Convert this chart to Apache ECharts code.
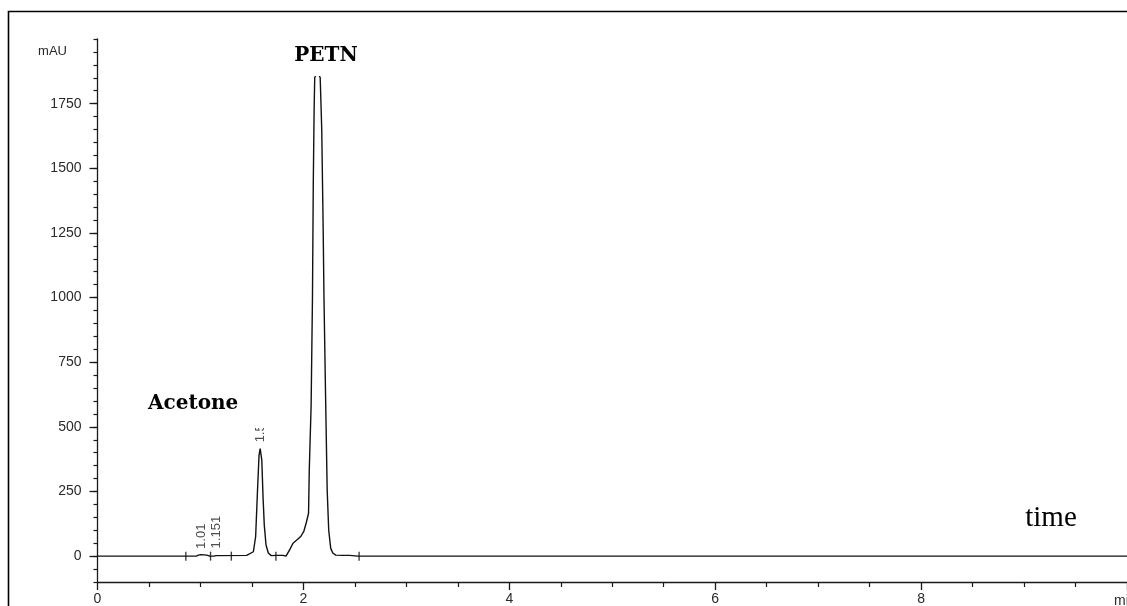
<!DOCTYPE html>
<html>
<head>
<meta charset="utf-8">
<script src="https://cdn.jsdelivr.net/npm/echarts@6/dist/echarts.min.js"></script>
<style>
  html, body { margin: 0; padding: 0; background: #ffffff; }
  #chart { width: 1127px; height: 606px; }
</style>
</head>
<body>
<div id="chart"></div>
<script>
// Detector trace: retention time (min) and absorbance (mAU)
const traceTime = [
  0, 0.96, 0.98, 1.00, 1.04, 1.07, 1.09, 1.13, 1.151, 1.17,
  1.449, 1.514, 1.536, 1.553, 1.569, 1.580, 1.596, 1.608, 1.620, 1.637, 1.659, 1.688, 1.736, 1.803,
  1.831, 1.870, 1.899, 1.947, 1.976, 2.005, 2.029, 2.050, 2.057, 2.075, 2.088, 2.096, 2.104, 2.110,
  2.137,
  2.163, 2.178, 2.192, 2.200, 2.215, 2.231, 2.246, 2.265, 2.285, 2.314, 2.380, 2.447, 2.53, 10
];
const traceMAU = [
  0, 0, 4, 6, 5, 3, 0, 0, 2, 0,
  3, 17, 75, 242, 390, 416, 371, 228, 120, 43, 12, 2, 3, 3,
  0, 27, 50, 66, 77, 97, 131, 166, 332, 583, 997, 1441, 1723, 1851,
  1870,
  1851, 1654, 1267, 997, 630, 255, 100, 31, 12, 4, 3, 3, 0, 0
];

// Retention-time annotations (text, time, anchor height)
const rtLabels = ['1.01', '1.151', '1.58', '2.137'];
const rtTimes = [1.01, 1.151, 1.58, 2.137];
const rtAnchor = [28, 30, 440, 1890];

// Integration baseline markers (min)
const markerTimes = [0.858, 1.098, 1.300, 1.733, 2.541];

// Axis ticks
const xTicks = [0, 2, 4, 6, 8];
const yTicks = [0, 250, 500, 750, 1000, 1250, 1500, 1750];

const trace = traceTime.map((t, i) => [t, traceMAU[i]]);
const rtPoints = rtTimes.map((t, i) => ({ value: [t, rtAnchor[i]], name: rtLabels[i] }));
const markers = markerTimes.map(t => [t, 0]);

const axisColor = '#1a1a1a';
const labelFont = { fontFamily: 'Liberation Sans, Arial, sans-serif', fontSize: 14, color: '#2a2a2a' };

const chart = echarts.init(document.getElementById('chart'), null, { renderer: 'canvas' });

chart.setOption({
  animation: false,
  backgroundColor: '#ffffff',
  grid: { left: 97.5, top: 39, width: 1040, height: 543, containLabel: false },
  xAxis: {
    type: 'value',
    min: 0,
    max: 10,
    interval: 2,
    axisLine: { show: true, onZero: false, lineStyle: { color: axisColor, width: 1.3 } },
    axisTick: { show: true, length: 8, lineStyle: { color: axisColor, width: 1.3 } },
    minorTick: { show: true, splitNumber: 4, length: 5, lineStyle: { color: axisColor, width: 1.2 } },
    splitLine: { show: false },
    minorSplitLine: { show: false },
    axisLabel: Object.assign({ margin: 10, customValues: xTicks, formatter: v => String(v) }, labelFont)
  },
  yAxis: [
    {
      type: 'value',
      min: -100,
      max: 2000,
      interval: 50,
      position: 'left',
      axisLine: { show: true, onZero: false, lineStyle: { color: axisColor, width: 1.3 } },
      axisTick: { show: true, length: 8, customValues: yTicks, lineStyle: { color: axisColor, width: 1.3 } },
      splitLine: { show: false },
      axisLabel: Object.assign({ margin: 16, customValues: yTicks, formatter: v => String(v) }, labelFont)
    },
    {
      type: 'value',
      min: -100,
      max: 2000,
      interval: 50,
      position: 'left',
      offset: 0,
      axisLine: { show: false },
      axisTick: { show: true, length: 4, lineStyle: { color: axisColor, width: 1.2 } },
      splitLine: { show: false },
      axisLabel: { show: false }
    }
  ],
  series: [
    {
      type: 'line',
      name: 'signal',
      data: trace,
      showSymbol: false,
      symbol: 'none',
      lineStyle: { color: '#111111', width: 1.4 },
      z: 3
    },
    {
      type: 'scatter',
      name: 'markers',
      data: markers,
      symbol: 'rect',
      symbolSize: [1.4, 9],
      itemStyle: { color: '#111111' },
      z: 4
    },
    {
      type: 'scatter',
      name: 'retention',
      data: rtPoints,
      symbolSize: 0,
      z: 5,
      label: {
        show: true,
        position: 'inside',
        rotate: 90,
        align: 'left',
        verticalAlign: 'middle',
        formatter: p => p.name,
        fontFamily: 'Liberation Sans, Arial, sans-serif',
        fontSize: 13,
        color: '#222222'
      }
    }
  ],
  graphic: [
    {
      type: 'rect',
      z: 100,
      shape: { x: 8.5, y: 11.5, width: 1130, height: 610 },
      style: { fill: null, stroke: '#000000', lineWidth: 1.6 }
    },
    {
      type: 'text',
      z: 100,
      x: 67, y: 51,
      style: { text: 'mAU', align: 'right', verticalAlign: 'middle', font: '13px "Liberation Sans", Arial, sans-serif', fill: '#2a2a2a' }
    },
    {
      type: 'text',
      z: 100,
      x: 1114, y: 601,
      style: { text: 'min', align: 'left', verticalAlign: 'middle', font: '14px "Liberation Sans", Arial, sans-serif', fill: '#2a2a2a' }
    },
    {
      type: 'rect',
      z: 100,
      shape: { x: 137, y: 378, width: 133, height: 50 },
      style: { fill: '#ffffff' }
    },
    {
      type: 'text',
      z: 101,
      x: 148, y: 404,
      style: { text: 'Acetone', align: 'left', verticalAlign: 'middle', font: 'bold 20px "DejaVu Serif", serif', fill: '#000000' }
    },
    {
      type: 'rect',
      z: 100,
      shape: { x: 282, y: 30, width: 96, height: 46 },
      style: { fill: '#ffffff' }
    },
    {
      type: 'text',
      z: 101,
      x: 326, y: 56,
      style: { text: 'PETN', align: 'center', verticalAlign: 'middle', font: 'bold 20px "DejaVu Serif", serif', fill: '#000000' }
    },
    {
      type: 'text',
      z: 101,
      x: 1051, y: 518,
      style: { text: 'time', align: 'center', verticalAlign: 'middle', font: '29px "Liberation Serif", "Times New Roman", serif', fill: '#000000' }
    }
  ]
});
</script>
</body>
</html>
